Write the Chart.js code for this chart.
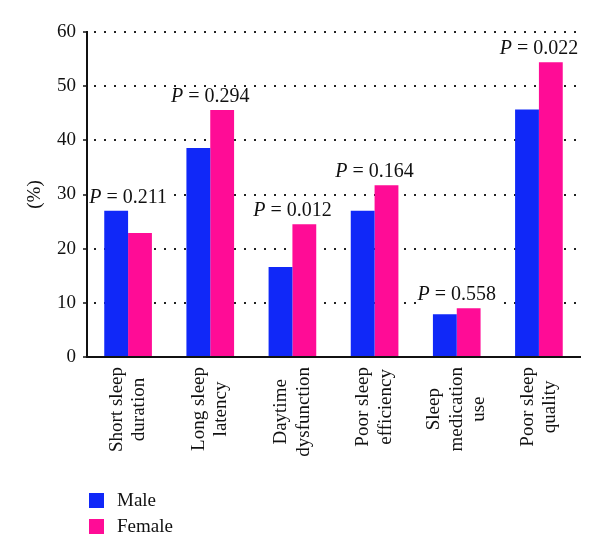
<!DOCTYPE html>
<html>
<head>
<meta charset="utf-8">
<script src="https://cdn.jsdelivr.net/npm/chart.js@4/dist/chart.umd.min.js"></script>
<style>
html,body{margin:0;padding:0;background:#fff;}
#wrap{width:600px;height:560px;position:relative;}
</style>
</head>
<body>
<div id="wrap"><canvas id="c" width="600" height="560"></canvas></div>
<script>
const categories = [
  ["Short sleep", "duration"],
  ["Long sleep", "latency"],
  ["Daytime", "dysfunction"],
  ["Poor sleep", "efficiency"],
  ["Sleep", "medication", "use"],
  ["Poor sleep", "quality"]
];
const maleValues = [27.0, 38.6, 16.6, 27.0, 7.9, 45.7];
const femaleValues = [22.9, 45.6, 24.5, 31.7, 9.0, 54.4];
const pValues = ["0.211", "0.294", "0.012", "0.164", "0.558", "0.022"];
const yTicks = [0, 10, 20, 30, 40, 50, 60];
const seriesNames = ["Male", "Female"];
const seriesColors = ["#1028F8", "#FF0C96"];

const FONT = '"Liberation Serif", "DejaVu Serif", serif';

const overlayPlugin = {
  id: 'overlay',
  afterDatasetsDraw(chart) {
    const ctx = chart.ctx;
    const xs = chart.scales.x;
    const ys = chart.scales.y;
    ctx.save();
    // P-value labels with white backing (hides gridline dots beneath)
    ctx.textBaseline = 'alphabetic';
    pValues.forEach((p, i) => {
      const top = Math.max(maleValues[i], femaleValues[i]);
      const yPix = ys.getPixelForValue(top) - 8;
      const cx = xs.getPixelForValue(i);
      ctx.font = 'italic 20px ' + FONT;
      const wP = ctx.measureText('P').width;
      ctx.font = '20px ' + FONT;
      const rest = ' = ' + p;
      const wR = ctx.measureText(rest).width;
      const start = cx - (wP + wR) / 2;
      ctx.fillStyle = '#fff';
      ctx.fillRect(start - 1, yPix - 15, wP + wR + 2, 19);
      ctx.fillStyle = '#111';
      ctx.textAlign = 'left';
      ctx.font = 'italic 20px ' + FONT;
      ctx.fillText('P', start, yPix);
      ctx.font = '20px ' + FONT;
      ctx.fillText(rest, start + wP, yPix);
    });
    ctx.restore();
  },
  afterDraw(chart) {
    const ctx = chart.ctx;
    const xs = chart.scales.x;
    ctx.save();
    ctx.fillStyle = '#111';
    // Rotated category labels (lines centered relative to each other)
    ctx.font = '19px ' + FONT;
    const lineH = 22.5;
    const axisY = chart.chartArea.bottom;
    categories.forEach((lines, i) => {
      const cx = xs.getPixelForValue(i);
      const maxW = Math.max(...lines.map(l => ctx.measureText(l).width));
      const cy = axisY + 10 + maxW / 2;
      const n = lines.length;
      lines.forEach((line, k) => {
        const off = (k - (n - 1) / 2) * lineH;
        ctx.save();
        ctx.translate(cx + off, cy);
        ctx.rotate(-Math.PI / 2);
        ctx.textAlign = 'center';
        ctx.textBaseline = 'middle';
        ctx.fillText(line, 0, 0);
        ctx.restore();
      });
    });
    // Legend (vertical, bottom-left)
    const lx = 89, ly0 = 493, box = 15, gap = 26;
    chart.data.datasets.forEach((ds, k) => {
      const y = ly0 + k * gap;
      ctx.fillStyle = ds.backgroundColor;
      ctx.fillRect(lx, y, box, box);
      ctx.fillStyle = '#111';
      ctx.textAlign = 'left';
      ctx.textBaseline = 'middle';
      ctx.font = '19px ' + FONT;
      ctx.fillText(ds.label, 117, y + box / 2 + 1);
    });
    ctx.restore();
  }
};

new Chart(document.getElementById('c'), {
  type: 'bar',
  data: {
    labels: categories.map(c => c.join(' ')),
    datasets: [
      { label: seriesNames[0], data: maleValues, backgroundColor: seriesColors[0], borderWidth: 0 },
      { label: seriesNames[1], data: femaleValues, backgroundColor: seriesColors[1], borderWidth: 0 }
    ]
  },
  options: {
    responsive: false,
    animation: false,
    devicePixelRatio: 1,
    layout: { padding: { top: 32, right: 20, bottom: 203, left: 0 } },
    plugins: { legend: { display: false }, tooltip: { enabled: false } },
    datasets: { bar: { categoryPercentage: 0.58, barPercentage: 1.0 } },
    scales: {
      x: {
        ticks: { display: false },
        grid: { display: false, drawTicks: false },
        border: { display: true, color: '#111', width: 2 }
      },
      y: {
        min: 0, max: 60,
        afterBuildTicks: s => { s.ticks = yTicks.map(v => ({ value: v })); },
        afterFit: s => { s.width = 87; },
        ticks: { color: '#111', font: { family: FONT, size: 19 }, padding: 7 },
        grid: {
          color: '#222', lineWidth: 2,
          tickLength: 4, tickColor: '#111', tickWidth: 1.5, tickBorderDash: []
        },
        border: { display: true, color: '#111', width: 2, dash: [2, 8], dashOffset: -6 },
        title: { display: true, text: '(%)', color: '#111', font: { family: FONT, size: 19 }, padding: { top: 24, bottom: 0 } }
      }
    }
  },
  plugins: [overlayPlugin]
});
</script>
</body>
</html>
